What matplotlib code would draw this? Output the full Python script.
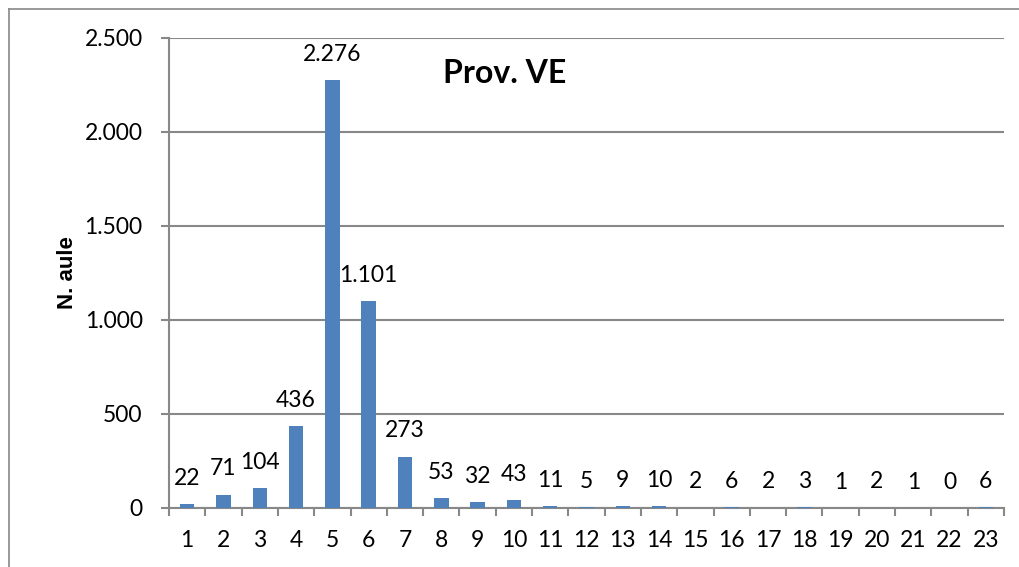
import matplotlib.pyplot as plt
from matplotlib.lines import Line2D
from matplotlib.ticker import FuncFormatter

plt.rcParams['font.family'] = ['Lato', 'DejaVu Sans']

# Data
categories = [str(i) for i in range(1, 24)]
values = [22, 71, 104, 436, 2276, 1101, 273, 53, 32, 43, 11, 5, 9, 10,
          2, 6, 2, 3, 1, 2, 1, 0, 6]
y_ticks = [0, 500, 1000, 1500, 2000, 2500]

BAR_COLOR = '#4F81BD'
GRID_COLOR = '#888888'
FS = 16.5


def fmt_it(v, pos=None):
    # Italian thousands separator
    return f"{int(v):,}".replace(",", ".")


fig = plt.figure(figsize=(10.19, 5.67), dpi=100)
# chart-area border (only left and top edges fall inside the picture)
bx, by = 9 / 1019, 1 - 9 / 567
fig.lines.append(Line2D([bx, bx], [0, by], transform=fig.transFigure,
                        color=GRID_COLOR, linewidth=1.2))
fig.lines.append(Line2D([bx, 1], [by, by], transform=fig.transFigure,
                        color=GRID_COLOR, linewidth=1.2))

ax = fig.add_axes([169 / 1019, 1 - 508 / 567, (1004 - 169) / 1019, (508 - 38) / 567])
x = list(range(len(values)))
ax.bar(x, values, width=0.4, color=BAR_COLOR, zorder=3)

for xi, v in zip(x, values):
    ax.annotate(fmt_it(v), (xi, v), xytext=(0, 11), textcoords='offset points',
                ha='center', va='bottom', fontsize=FS)

ax.set_xlim(-0.5, len(values) - 0.5)
ax.set_ylim(0, 2500)
ax.set_yticks(y_ticks)
ax.yaxis.set_major_formatter(FuncFormatter(fmt_it))
ax.set_xticks([i - 0.5 for i in range(len(values) + 1)], minor=False)
ax.set_xticklabels([])
ax.set_xticks(x, minor=True)
ax.set_xticklabels(categories, minor=True)
ax.tick_params(axis='x', which='minor', length=0, labelsize=FS, pad=16)
ax.tick_params(axis='x', which='major', length=6, color=GRID_COLOR, width=1.5)
ax.tick_params(axis='y', length=6, color=GRID_COLOR, width=1.5, labelsize=FS, pad=13)

ax.grid(axis='y', color=GRID_COLOR, linewidth=1.5, zorder=0)
for s in ['top', 'right']:
    ax.spines[s].set_visible(False)
for s in ['left', 'bottom']:
    ax.spines[s].set_color(GRID_COLOR)
    ax.spines[s].set_linewidth(1.5)

ax.set_ylabel('N. aule', fontsize=16, fontweight='bold', labelpad=5,
              family=['Liberation Sans', 'DejaVu Sans'])
ax.text(0.402, 0.9255, 'Prov. VE', transform=ax.transAxes, ha='center', va='center',
        fontsize=23, fontweight='bold')

fig.savefig('out.png', dpi=100)
